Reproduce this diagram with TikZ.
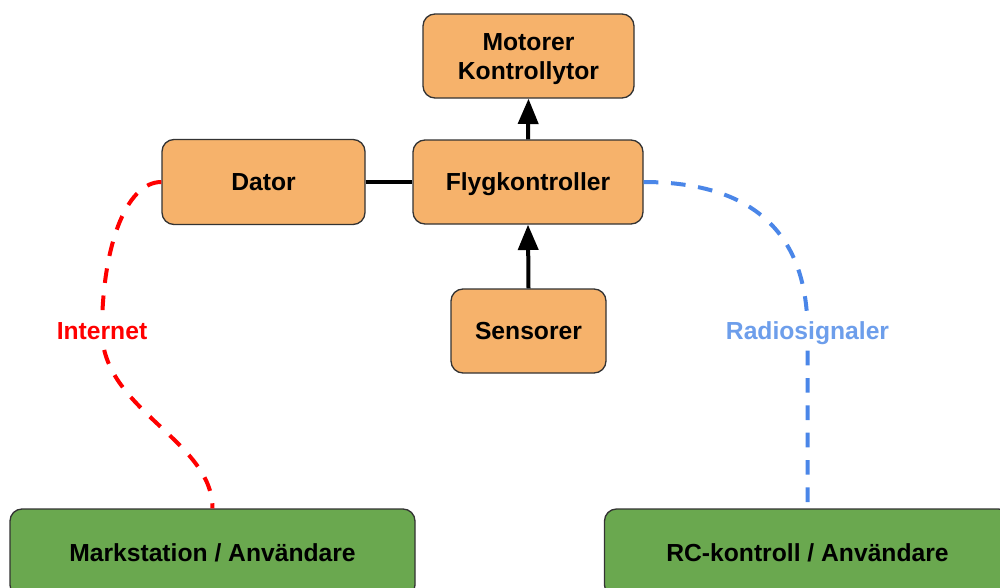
\documentclass[tikz,border=0pt]{standalone}
\usepackage{fontspec}
\setmainfont{Liberation Sans}
\usetikzlibrary{arrows.meta}
\definecolor{boxorange}{HTML}{F6B26B}
\definecolor{boxgreen}{HTML}{6AA84F}
\definecolor{edgegray}{HTML}{333333}
\definecolor{netred}{HTML}{FF0000}
\definecolor{radioblue}{HTML}{4A86E8}
\definecolor{radiolabel}{HTML}{6D9EEB}
\begin{document}
\begin{tikzpicture}[x=0.75pt,y=-0.75pt,
  labelfont/.style={font=\fontsize{18.5}{21.75}\selectfont\bfseries},
  capcentred/.style={text height=13.25pt, text depth=0pt},
  block/.style={draw=edgegray, line width=1pt, rounded corners=9pt, inner sep=0pt,
    labelfont, align=center, text=black},
  orangebox/.style={block, fill=boxorange},
  greenbox/.style={block, fill=boxgreen},
  solidlink/.style={line width=3pt, draw=black},
  uparrow/.style={solidlink, -{Triangle[length=19pt,width=15pt]}},
  dashlink/.style={line width=3pt, dash pattern=on 11pt off 9.5pt},
  linklabel/.style={labelfont, capcentred, fill=white, inner sep=3pt}
]
\useasboundingbox (0,0) rectangle (1000,587);
\clip (0,0) rectangle (1000,587);

% component boxes
\node[orangebox, minimum width=211*0.75pt, minimum height=84*0.75pt] (motor) at (528.5,56)
  {\raisebox{0pt}[\dimexpr\height+4.5pt\relax][\depth]{\shortstack[c]{Motorer\\[5.5pt]Kontrollytor}}};
\node[orangebox, capcentred, minimum width=230*0.75pt, minimum height=84*0.75pt] (flyg) at (528,182) {Flygkontroller};
\node[orangebox, capcentred, minimum width=203*0.75pt, minimum height=85*0.75pt] (dator) at (263.5,182) {Dator};
\node[orangebox, capcentred, minimum width=155*0.75pt, minimum height=84*0.75pt] (sensor) at (528.5,331) {Sensorer};
\node[greenbox, capcentred, minimum width=405*0.75pt, minimum height=88*0.75pt] (mark) at (212.5,553) {Markstation / Användare};
\node[greenbox, capcentred, minimum width=406*0.75pt, minimum height=88*0.75pt] (rc) at (807.5,553) {RC-kontroll / Användare};

% wired connections
\draw[solidlink] (dator.east) -- (flyg.west);
\draw[uparrow] (sensor.north) -- (flyg.south);
\draw[uparrow] (flyg.north) -- (motor.south);

% wireless links
\coordinate (netmid) at (102,331);
\coordinate (radiomid) at (807.5,331);
\draw[dashlink, netred] (dator.west) .. controls (125,182) and (102,250) .. (netmid)
  .. controls (102,410) and (212.5,440) .. (mark.north);
\draw[dashlink, radioblue] (flyg.east) .. controls (760,182) and (807.5,240) .. (radiomid)
  -- (rc.north);

\node[linklabel, text=netred] at (netmid) {Internet};
\node[linklabel, text=radiolabel] at (radiomid) {Radiosignaler};
\end{tikzpicture}
\end{document}
